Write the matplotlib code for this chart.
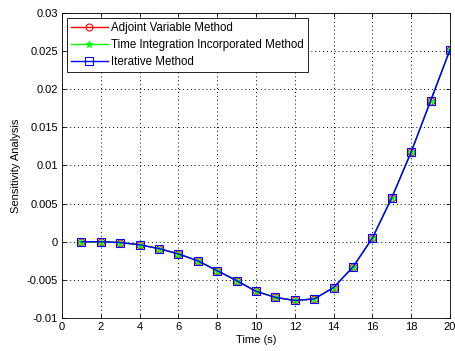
import matplotlib.pyplot as plt
import numpy as np

plt.rcParams['font.family'] = ['Liberation Sans', 'DejaVu Sans']

time = np.arange(1, 21)
adjoint = [0.0, 0.0, -0.0001, -0.0004, -0.0009, -0.0016, -0.0025, -0.0038, -0.0051, -0.0065,
           -0.0073, -0.0077, -0.0075, -0.0060, -0.0033, 0.0005, 0.0058, 0.0118, 0.0185, 0.0252]
time_integ = [0.0, 0.0, -0.0001, -0.0004, -0.0009, -0.0016, -0.0025, -0.0038, -0.0051, -0.0065,
              -0.0073, -0.0077, -0.0075, -0.0060, -0.0033, 0.0005, 0.0058, 0.0118, 0.0185, 0.0252]
iterative = [0.0, 0.0, -0.0001, -0.0004, -0.0009, -0.0016, -0.0025, -0.0038, -0.0051, -0.0065,
             -0.0073, -0.0077, -0.0075, -0.0060, -0.0033, 0.0005, 0.0058, 0.0118, 0.0185, 0.0252]
labels = ["Adjoint Variable Method", "Time Integration Incorporated Method", "Iterative Method"]

fig = plt.figure(figsize=(4.56, 3.51), dpi=100)
ax = fig.add_axes([0.136, 0.094, 0.851, 0.869])

ax.plot(time, adjoint, '-o', color='#ff0000', lw=1.0, ms=5, mfc='none', mew=0.8, label=labels[0])
ax.plot(time, time_integ, '-*', color='#00ff00', lw=1.0, ms=5, mew=0.8, label=labels[1])
ax.plot(time, iterative, '-s', color='#0000ff', lw=1.0, ms=5.5, mfc='none', mew=0.8, label=labels[2])

ax.set_xlim(0, 20)
ax.set_ylim(-0.01, 0.03)
ax.set_xticks(np.arange(0, 21, 2))
ax.set_yticks(np.arange(-0.01, 0.0301, 0.005))
ax.set_yticklabels(['-0.01', '-0.005', '0', '0.005', '0.01', '0.015', '0.02', '0.025', '0.03'])
ax.tick_params(direction='in', top=True, right=True, labelsize=8, length=3, width=0.6, pad=3)
ax.grid(True, linestyle=(0, (1, 3)), color='black', lw=0.7)
for s in ax.spines.values():
    s.set_linewidth(0.6)
ax.set_xlabel("Time (s)", fontsize=8, labelpad=2)
ax.set_ylabel("Sensitivity Analysis", fontsize=8, labelpad=4)

leg = ax.legend(loc='upper left', fontsize=8.3, fancybox=False, framealpha=1,
                edgecolor='black', borderpad=0.35, labelspacing=0.45, handlelength=3.2,
                handletextpad=0.3, borderaxespad=0.4)
leg.get_frame().set_linewidth(0.6)

fig.savefig("out.png", dpi=100)
